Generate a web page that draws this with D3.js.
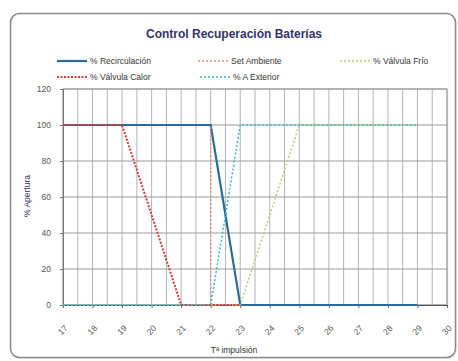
<!DOCTYPE html>
<html><head><meta charset="utf-8">
<script src="https://cdn.jsdelivr.net/npm/d3@7"></script>
<style>
html,body{margin:0;padding:0;background:#fff;}
svg{display:block;font-family:"Liberation Sans",Arial,sans-serif;}
</style></head>
<body>
<svg id="chart" width="458" height="361"></svg>
<script>
// ---- data ----
const title = "Control Recuperación Baterías";
const xTickLabels = [17,18,19,20,21,22,23,24,25,26,27,28,29,30];
const yTickLabels = [0,20,40,60,80,100,120];
const seriesNames = ["% Recirculación","Set Ambiente","% Válvula Frío","% Válvula Calor","% A Exterior"];
const recircX = [17,22,23,29],   recircY = [100,100,0,0];
const setAmbX = [22,22],         setAmbY = [0,100];
const frioX = [17,23,25,29],     frioY = [0,0,100,100];
const calorX = [17,19,21,23],    calorY = [100,100,0,0];
const exteriorX = [17,22,23,29], exteriorY = [0,0,100,100];

// ---- styles ----
const styles = [
  {color:"#2b6a9a", width:2.2, dash:null},
  {color:"#f08a8a", width:1.3, dash:"2,2"},
  {color:"#bccb78", width:1.5, dash:"2,2"},
  {color:"#d23a3a", width:2, dash:"2,1.5"},
  {color:"#3bb8c8", width:1.5, dash:"2,2"}
];
const seriesXs = [recircX,setAmbX,frioX,calorX,exteriorX];
const seriesYs = [recircY,setAmbY,frioY,calorY,exteriorY];

const svg = d3.select("#chart");
// frame
svg.append("rect").attr("x",12).attr("y",15).attr("width",445).attr("height",344)
  .attr("rx",9).attr("fill","#ddd").attr("opacity",0.6);
svg.append("rect").attr("x",10.5).attr("y",13.5).attr("width",445).attr("height",344)
  .attr("rx",9).attr("fill","#fff").attr("stroke","#8a8a8a").attr("stroke-width",1.5);

const L=63, R=447, T=89, B=305;
const x = d3.scaleLinear().domain([17,30]).range([L,R]);
const y = d3.scaleLinear().domain([0,120]).range([B,T]);

// gridlines
const vGrid = d3.range(17,30.01,0.5);
svg.append("g").selectAll("line").data(vGrid).join("line")
  .attr("x1",d=>x(d)).attr("x2",d=>x(d)).attr("y1",T).attr("y2",B)
  .attr("stroke","#b4b4b4").attr("stroke-width",1);
svg.append("g").selectAll("line").data(yTickLabels).join("line")
  .attr("x1",L).attr("x2",R).attr("y1",d=>y(d)).attr("y2",d=>y(d))
  .attr("stroke","#9a9a9a").attr("stroke-width",1);
svg.append("rect").attr("x",L).attr("y",T).attr("width",R-L).attr("height",B-T)
  .attr("fill","none").attr("stroke","#9a9a9a");

// axes
const yAxis = d3.axisLeft(y).tickValues(yTickLabels).tickSize(3).tickPadding(9);
const gy = svg.append("g").attr("transform",`translate(${L},0)`).call(yAxis);
gy.select(".domain").attr("stroke","#777");
gy.selectAll("line").attr("stroke","#777");
gy.selectAll("text").attr("font-size",8.5).attr("fill","#555");

const xAxis = d3.axisBottom(x).tickValues(xTickLabels).tickSize(3).tickPadding(4);
const gx = svg.append("g").attr("transform",`translate(0,${B})`).call(xAxis);
gx.select(".domain").attr("stroke","#555");
gx.selectAll("line").attr("stroke","#666");
gx.selectAll("text").attr("font-size",8.5).attr("fill","#555")
  .attr("text-anchor","end").attr("dy","0.3em")
  .attr("transform","translate(-2,17) rotate(-45)");

// series
const line = d3.line().x(d=>x(d[0])).y(d=>y(d[1]));
seriesXs.forEach((xs,i)=>{
  const pts = xs.map((v,j)=>[v,seriesYs[i][j]]);
  svg.append("path").datum(pts).attr("d",line).attr("fill","none")
    .attr("stroke",styles[i].color).attr("stroke-width",styles[i].width)
    .attr("stroke-dasharray",styles[i].dash);
});

// title
svg.append("text").attr("x",234).attr("y",38).attr("text-anchor","middle")
  .attr("font-size",12).attr("font-weight","bold").attr("fill","#333366").text(title);

// legend
const legPos = [[57,61],[198,61],[340,61],[57,77],[200,77]];
seriesNames.forEach((n,i)=>{
  const [lx,ly] = legPos[i];
  svg.append("line").attr("x1",lx).attr("x2",lx+30).attr("y1",ly).attr("y2",ly)
    .attr("stroke",styles[i].color).attr("stroke-width",styles[i].width)
    .attr("stroke-dasharray",styles[i].dash);
  svg.append("text").attr("x",lx+33).attr("y",ly+3).attr("font-size",8.5)
    .attr("fill","#333").text(n);
});

// axis titles
svg.append("text").attr("transform","translate(30,196) rotate(-90)")
  .attr("text-anchor","middle").attr("font-size",8.5).attr("fill","#333366").text("% Apertura");
svg.append("text").attr("x",234).attr("y",353).attr("text-anchor","middle")
  .attr("font-size",8.5).attr("fill","#333").text("Tª impulsión");
</script>
</body></html>
